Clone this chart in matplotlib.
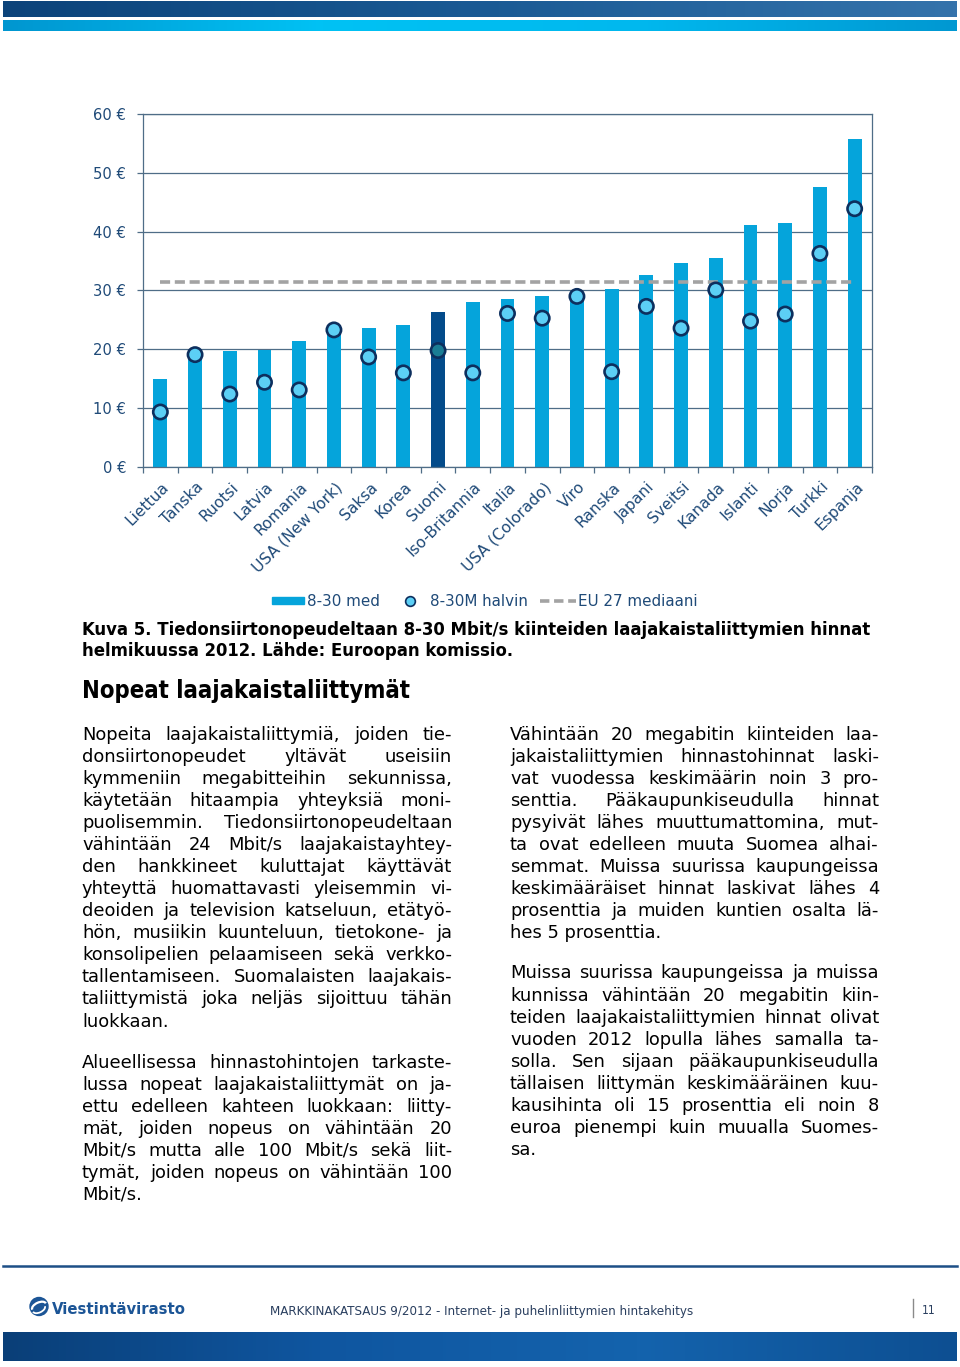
import matplotlib
matplotlib.use("Agg")
import matplotlib.pyplot as plt
import numpy as np
from matplotlib import font_manager as fm
from matplotlib.colors import LinearSegmentedColormap
from matplotlib.patches import Rectangle, Circle, Arc
from matplotlib.transforms import ScaledTranslation

# ---------------- data ----------------
countries = ["Liettua", "Tanska", "Ruotsi", "Latvia", "Romania", "USA (New York)",
             "Saksa", "Korea", "Suomi", "Iso-Britannia", "Italia", "USA (Colorado)",
             "Viro", "Ranska", "Japani", "Sveitsi", "Kanada", "Islanti", "Norja",
             "Turkki", "Espanja"]
med_price = [14.9, 19.3, 19.8, 19.9, 21.4, 23.4, 23.7, 24.2, 26.3, 28.0, 28.6,
             29.1, 29.5, 30.3, 32.6, 34.7, 35.5, 41.2, 41.5, 47.6, 55.8]
cheapest_price = [9.35, 19.1, 12.4, 14.4, 13.1, 23.3, 18.7, 16.0, 19.8, 16.0, 26.1,
                  25.3, 29.0, 16.2, 27.3, 23.6, 30.1, 24.8, 26.0, 36.3, 43.9]
eu27_median = 31.4
highlight = "Suomi"
y_ticks = [0, 10, 20, 30, 40, 50, 60]
y_tick_labels = [f"{v} €" for v in y_ticks]
legend_labels = ["8-30 med", "8-30M halvin", "EU 27 mediaani"]

caption_lines = ["Kuva 5. Tiedonsiirtonopeudeltaan 8-30 Mbit/s kiinteiden laajakaistaliittymien hinnat",
                 "helmikuussa 2012. Lähde: Euroopan komissio."]
heading = "Nopeat laajakaistaliittymät"
left_p1 = ["Nopeita laajakaistaliittymiä, joiden tie-",
           "donsiirtonopeudet yltävät useisiin",
           "kymmeniin megabitteihin sekunnissa,",
           "käytetään hitaampia yhteyksiä moni-",
           "puolisemmin. Tiedonsiirtonopeudeltaan",
           "vähintään 24 Mbit/s laajakaistayhtey-",
           "den hankkineet kuluttajat käyttävät",
           "yhteyttä huomattavasti yleisemmin vi-",
           "deoiden ja television katseluun, etätyö-",
           "hön, musiikin kuunteluun, tietokone- ja",
           "konsolipelien pelaamiseen sekä verkko-",
           "tallentamiseen. Suomalaisten laajakais-",
           "taliittymistä joka neljäs sijoittuu tähän",
           "luokkaan."]
left_p2 = ["Alueellisessa hinnastohintojen tarkaste-",
           "lussa nopeat laajakaistaliittymät on ja-",
           "ettu edelleen kahteen luokkaan: liitty-",
           "mät, joiden nopeus on vähintään 20",
           "Mbit/s mutta alle 100 Mbit/s sekä liit-",
           "tymät, joiden nopeus on vähintään 100",
           "Mbit/s."]
right_p1 = ["Vähintään 20 megabitin kiinteiden laa-",
            "jakaistaliittymien hinnastohinnat laski-",
            "vat vuodessa keskimäärin noin 3 pro-",
            "senttia. Pääkaupunkiseudulla hinnat",
            "pysyivät lähes muuttumattomina, mut-",
            "ta ovat edelleen muuta Suomea alhai-",
            "semmat. Muissa suurissa kaupungeissa",
            "keskimääräiset hinnat laskivat lähes 4",
            "prosenttia ja muiden kuntien osalta lä-",
            "hes 5 prosenttia."]
right_p2 = ["Muissa suurissa kaupungeissa ja muissa",
            "kunnissa vähintään 20 megabitin kiin-",
            "teiden laajakaistaliittymien hinnat olivat",
            "vuoden 2012 lopulla lähes samalla ta-",
            "solla. Sen sijaan pääkaupunkiseudulla",
            "tällaisen liittymän keskimääräinen kuu-",
            "kausihinta oli 15 prosenttia eli noin 8",
            "euroa pienempi kuin muualla Suomes-",
            "sa."]
logo_text = "Viestintävirasto"
footer_text = "MARKKINAKATSAUS 9/2012 - Internet- ja puhelinliittymien hintakehitys"
page_number = "11"

# ---------------- styles ----------------
plt.rcParams['font.family'] = ['DejaVu Sans']
BAR = '#05a4db'
BAR_DARK = '#034b8a'
MK_FACE = '#5ccff5'
MK_FACE_DARK = '#1a7d95'
MK_EDGE = '#0d2f5e'
SPINE = '#4f6d87'
LAB = '#1f4a78'
GRAY = '#a3a3a3'


def pick_narrow():
    fl = fm.fontManager.ttflist

    def cond(f):
        s = f.stretch
        if isinstance(s, str):
            return 'condensed' in s
        return s < 500
    if any(f.name == 'DejaVu Sans' and cond(f) for f in fl):
        return {'family': 'DejaVu Sans', 'stretch': 'condensed'}
    names = {f.name for f in fl}
    for n in ['Liberation Sans Narrow', 'Roboto Condensed', 'Open Sans Condensed', 'Roboto']:
        if n in names:
            return {'family': n}
    return {'family': 'DejaVu Sans'}


NARROW = pick_narrow()

W, H = 960, 1367
fig = plt.figure(figsize=(W / 100, H / 100), dpi=100)
fig.patch.set_facecolor('white')
bg = fig.add_axes([0, 0, 1, 1], zorder=0)
bg.axis('off')
bg.set_xlim(0, W)
bg.set_ylim(H, 0)
renderer = fig.canvas.get_renderer()


def width_of(t):
    return t.get_window_extent(renderer).width


def fit_text(x, y, s, target_w, size0=12, **kw):
    t = bg.text(x, y, s, fontsize=size0, va='baseline', ha='left', **kw)
    w = width_of(t)
    t.set_fontsize(size0 * target_w / w)
    return t


def paragraph(lines, x0, x1, y0, lh, size, **kw):
    for i, line in enumerate(lines):
        y = y0 + i * lh
        words = line.split(' ')
        if i == len(lines) - 1 or len(words) == 1:
            bg.text(x0, y, line, fontsize=size, va='baseline', ha='left', **kw)
            continue
        ts = [bg.text(0, y, wd, fontsize=size, va='baseline', ha='left', **kw) for wd in words]
        ws = [width_of(t) for t in ts]
        gap = (x1 - x0 - sum(ws)) / (len(words) - 1)
        if gap < 3:
            scale = (x1 - x0 - 3 * (len(words) - 1)) / sum(ws)
            for t in ts:
                t.set_fontsize(size * scale)
            ws = [w * scale for w in ws]
            gap = 3
        x = x0
        for t, w in zip(ts, ws):
            t.set_x(x)
            x += w + gap


# ---------------- decorative bands ----------------
grad = np.linspace(0, 1, 256)[None, :]
cm_dark = LinearSegmentedColormap.from_list('d', ['#0c437a', '#1a5a94', '#3573ab'])
cm_cyan = LinearSegmentedColormap.from_list('c', ['#0096d0', '#00c2f4', '#00b8ee', '#0098d2'])
cm_bottom = LinearSegmentedColormap.from_list('b', ['#0a3f78', '#0f56a0', '#1463ad', '#0d4f92'])
bg.imshow(grad, extent=(3, 957, 17.5, 2), cmap=cm_dark, aspect='auto', zorder=1)
bg.imshow(grad, extent=(3, 957, 31.5, 21), cmap=cm_cyan, aspect='auto', zorder=1)
bg.imshow(grad, extent=(3, 957, 1361, 1332), cmap=cm_bottom, aspect='auto', zorder=1)
bg.plot([3, 957], [1266, 1266], color='#1d4f86', lw=1.8)

# ---------------- chart ----------------
ax = fig.add_axes([143 / W, 1 - 467 / H, (872 - 143) / W, (467 - 114) / H], zorder=2)
ax.patch.set_alpha(0)
x = np.arange(len(countries))
bar_colors = [BAR_DARK if c == highlight else BAR for c in countries]
ax.bar(x, med_price, width=0.4, color=bar_colors, zorder=2)
ax.plot([x[0], x[-1]], [eu27_median, eu27_median], color=GRAY, lw=2.6,
        dashes=(2.8, 1.3), zorder=3)
mk_faces = [MK_FACE_DARK if c == highlight else MK_FACE for c in countries]
ax.scatter(x, cheapest_price, s=106, c=mk_faces, edgecolors=MK_EDGE, linewidths=1.9, zorder=4)

ax.set_xlim(-0.5, len(countries) - 0.5)
ax.set_ylim(0, 60)
ax.set_yticks(y_ticks)
ax.set_yticklabels(y_tick_labels)
ax.set_xticks(x)
ax.set_xticklabels(countries, rotation=45, ha='right', va='top', rotation_mode='anchor')
ax.set_xticks(np.arange(-0.5, len(countries), 1), minor=True)
ax.tick_params(axis='x', which='major', length=0, pad=9, labelsize=11.2, labelcolor=LAB)
ax.tick_params(axis='x', which='minor', length=4, width=0.9, color=SPINE, direction='out')
ax.tick_params(axis='y', length=4, width=0.9, color=SPINE, pad=8, labelsize=10.6, labelcolor=LAB)
ax.yaxis.grid(True, color=SPINE, lw=0.9)
ax.set_axisbelow(True)
for s in ax.spines.values():
    s.set_color(SPINE)
    s.set_linewidth(0.9)
for lbl in ax.get_xticklabels():
    lbl.set_transform(lbl.get_transform() + ScaledTranslation(1 / 100, 0, fig.dpi_scale_trans))

# ---------------- legend ----------------
bg.add_patch(Rectangle((272, 596.5), 32, 7, color=BAR, zorder=3))
bg.text(307, 606, legend_labels[0], fontsize=10.9, color=LAB, va='baseline')
bg.plot([410], [600.5], marker='o', ms=7, mfc=MK_FACE, mec=MK_EDGE, mew=1.2, zorder=3)
bg.text(430, 606, legend_labels[1], fontsize=10.9, color=LAB, va='baseline')
bg.plot([540, 576], [600.5, 600.5], color=GRAY, lw=2.6, dashes=(2.6, 1.3), zorder=3)
bg.text(578, 606, legend_labels[2], fontsize=10.9, color=LAB, va='baseline')

# ---------------- caption, heading, body ----------------
cap = fit_text(82, 635, caption_lines[0], 788, fontweight='bold', color='black', **NARROW)
bg.text(82, 656, caption_lines[1], fontsize=cap.get_fontsize(), fontweight='bold',
        color='black', va='baseline', ha='left', **NARROW)
fit_text(82, 698, heading, 328, fontweight='bold', color='black', **NARROW)

BODY = 12.9
LH = 22.08
paragraph(left_p1, 82, 452, 739.5, LH, BODY, color='black')
paragraph(left_p2, 82, 452, 1067.5, LH, BODY, color='black')
paragraph(right_p1, 510, 879, 739.5, LH, BODY, color='black')
paragraph(right_p2, 510, 879, 978.5, LH, BODY, color='black')

# ---------------- footer ----------------
bg.add_patch(Circle((39, 1306.5), 9, color='#1c5596', zorder=3))
bg.add_patch(Arc((39, 1306.5), 15, 8, angle=-25, theta1=180, theta2=360, color='white', lw=1.6, zorder=4))
bg.add_patch(Arc((39, 1309), 13, 7, angle=-25, theta1=0, theta2=180, color='white', lw=1.3, zorder=4))
fit_text(52, 1313.5, logo_text, 133, fontweight='bold', color='#1c5596', **NARROW)
fit_text(270, 1314.5, footer_text, 420, color='#2a3f5f', **NARROW)
bg.plot([913, 913], [1299, 1317], color='#8a8a8a', lw=1)
bg.text(922, 1314.5, page_number, fontsize=8.5, color='#2a3f5f', va='baseline', **NARROW)

bg.set_xlim(0, W)
bg.set_ylim(H, 0)
fig.savefig("out.png", dpi=100, facecolor='white')
